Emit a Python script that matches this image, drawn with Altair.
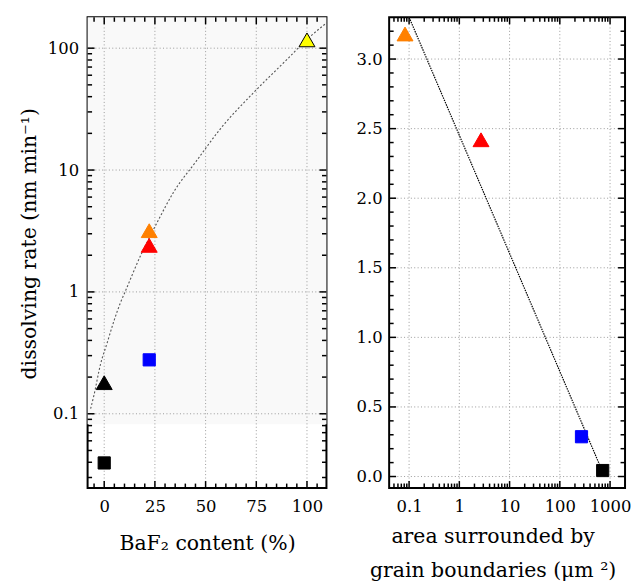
import altair as alt
import pandas as pd

FONT = "DejaVu Serif"

# ---------------- left panel data ----------------
baf2_content = [0, 0, 22.2, 22.2, 22.2, 100]
rate_left = [0.0395, 0.18, 0.277, 2.41, 3.18, 117]
shape_left = ["square", "triangle-up", "square", "triangle-up", "triangle-up", "triangle-up"]
fill_left = ["#000000", "#000000", "#0000ff", "#ff0000", "#ff8000", "#ffff00"]
stroke_left = ["#000000", "#000000", "#0000ff", "#ff0000", "#ff8000", "#000000"]

fit_left_x = [-6.7, -5.1, -1.8, 1.5, 4.8, 8.0, 10.5, 18.2, 22.2, 26.4, 34.5, 45.2,
              57.4, 73.8, 90.2, 100, 109.8]
fit_left_y = [0.11, 0.141, 0.256, 0.384, 0.578, 0.815, 1.02, 2.03, 2.77, 3.8, 6.7, 11.7,
              21.9, 43.4, 81, 118, 162]

band_low = [0.082]
band_high = [179.2]

# ---------------- right panel data ----------------
area = [0.083, 2.7, 270, 713]
rate_right = [3.18, 2.42, 0.286, 0.043]
shape_right = ["triangle-up", "triangle-up", "square", "square"]
fill_right = ["#ff8000", "#ff0000", "#0000ff", "#000000"]
stroke_right = ["#ff8000", "#ff0000", "#0000ff", "#000000"]

fit_right_x = [0.1, 641]
fit_right_y = [3.30, 0.071]

# ---------------- ticks ----------------
left_x_major = [0, 25, 50, 75, 100]
left_x_minor = [-5, 5, 10, 15, 20, 30, 35, 40, 45, 55, 60, 65, 70, 80, 85, 90, 95, 105]
left_y_major = [0.1, 1, 10, 100]
left_y_minor = [0.03, 0.04, 0.05, 0.06, 0.07, 0.08, 0.09,
                0.2, 0.3, 0.4, 0.5, 0.6, 0.7, 0.8, 0.9,
                2, 3, 4, 5, 6, 7, 8, 9,
                20, 30, 40, 50, 60, 70, 80, 90]
right_x_major = [0.1, 1, 10, 100, 1000]
right_x_minor = [0.05, 0.06, 0.07, 0.08, 0.09,
                 0.2, 0.3, 0.4, 0.5, 0.6, 0.7, 0.8, 0.9,
                 2, 3, 4, 5, 6, 7, 8, 9,
                 20, 30, 40, 50, 60, 70, 80, 90,
                 200, 300, 400, 500, 600, 700, 800, 900]
right_y_major = [0.0, 0.5, 1.0, 1.5, 2.0, 2.5, 3.0]
right_y_minor = [0.1, 0.2, 0.3, 0.4, 0.6, 0.7, 0.8, 0.9, 1.1, 1.2, 1.3, 1.4,
                 1.6, 1.7, 1.8, 1.9, 2.1, 2.2, 2.3, 2.4, 2.6, 2.7, 2.8, 2.9,
                 3.1, 3.2]

LW, RW, H = 240, 237, 473
MAJ, MIN = 7, 4.5

left_xscale = alt.Scale(domain=[-8.2, 109.6], nice=False, zero=False)
left_yscale = alt.Scale(type="log", domain=[0.02457, 179.2], nice=False)
right_xscale = alt.Scale(type="log", domain=[0.0401, 1986], nice=False)
right_yscale = alt.Scale(domain=[-0.083, 3.30], nice=False, zero=False)

common = dict(ticks=False, domain=False, grid=False)

left_xaxis = alt.Axis(
    values=left_x_major, format="d", labelPadding=11,
    title="BaF₂ content (%)", titleX=120, titleY=62,
    titleAlign="center", titleBaseline="alphabetic", **common)
left_yaxis = alt.Axis(
    values=left_y_major, format="~g", labelPadding=9,
    title="dissolving rate (nm min⁻¹)", titleX=-52, titleY=227,
    titleAngle=270, titleAlign="center", titleBaseline="alphabetic", **common)
right_xaxis = alt.Axis(
    values=right_x_major, format="~g", labelPadding=11,
    title=["area surrounded by", "grain boundaries (μm ²)"],
    titleX=104, titleY=55, titleLineHeight=34,
    titleAlign="center", titleBaseline="alphabetic", **common)
right_yaxis = alt.Axis(
    values=right_y_major, format=".1f", labelPadding=7, title="", **common)


def enc_factory(xscale, yscale, xaxis, yaxis):
    def ex(field):
        return alt.X(field, type="quantitative", scale=xscale, axis=xaxis)

    def ey(field):
        return alt.Y(field, type="quantitative", scale=yscale, axis=yaxis)
    return ex, ey


def tick_layers(xvals_major, xvals_minor, yvals_major, yvals_minor, ex, ey, W):
    layers = []
    for vals, L in ((yvals_major, MAJ), (yvals_minor, MIN)):
        base = alt.Chart(pd.DataFrame({"v": vals})).mark_rule(color="black", strokeWidth=1.5)
        layers.append(base.encode(y=ey("v"), x=alt.value(0), x2=alt.value(L)))
        layers.append(base.encode(y=ey("v"), x=alt.value(W - L), x2=alt.value(W)))
    for vals, L in ((xvals_major, MAJ), (xvals_minor, MIN)):
        base = alt.Chart(pd.DataFrame({"v": vals})).mark_rule(color="black", strokeWidth=1.5)
        layers.append(base.encode(x=ex("v"), y=alt.value(0), y2=alt.value(L)))
        layers.append(base.encode(x=ex("v"), y=alt.value(H - L), y2=alt.value(H)))
    return layers


def grid_layers(xvals, yvals, ex, ey):
    gx = alt.Chart(pd.DataFrame({"v": xvals})).mark_rule(
        color="#9a9a9a", strokeWidth=1, strokeDash=[1, 2.4]
    ).encode(x=ex("v"))
    gy = alt.Chart(pd.DataFrame({"v": yvals})).mark_rule(
        color="#9a9a9a", strokeWidth=1, strokeDash=[1, 2.4]
    ).encode(y=ey("v"))
    return [gx, gy]


def points(df, ex, ey):
    return alt.Chart(df).mark_point(filled=True, opacity=1, strokeWidth=1).encode(
        x=ex("x"), y=ey("y"),
        shape=alt.Shape("shape:N", scale=None),
        fill=alt.Fill("fill:N", scale=None),
        stroke=alt.Stroke("stroke:N", scale=None),
        size=alt.condition("datum.shape == 'square'", alt.value(150), alt.value(256)),
    )


# ---------------- left panel ----------------
lx, ly = enc_factory(left_xscale, left_yscale, left_xaxis, left_yaxis)

band = alt.Chart(pd.DataFrame({"lo": band_low, "hi": band_high})).mark_rect(
    color="#f9f9f9"
).encode(y=ly("lo"), y2="hi:Q", x=alt.value(0), x2=alt.value(LW))

fit_left = alt.Chart(pd.DataFrame({"x": fit_left_x, "y": fit_left_y})).mark_line(
    color="#555555", strokeWidth=1.1, strokeDash=[2, 2], clip=True, interpolate="monotone"
).encode(x=lx("x"), y=ly("y"))

pts_left = points(pd.DataFrame({
    "x": baf2_content, "y": rate_left, "shape": shape_left,
    "fill": fill_left, "stroke": stroke_left,
}), lx, ly)

left = alt.layer(
    band,
    *grid_layers(left_x_major, left_y_major, lx, ly),
    fit_left,
    pts_left,
    *tick_layers(left_x_major, left_x_minor, left_y_major, left_y_minor, lx, ly, LW),
).properties(width=LW, height=H)

# ---------------- right panel ----------------
rx, ry = enc_factory(right_xscale, right_yscale, right_xaxis, right_yaxis)

fit_right = alt.Chart(pd.DataFrame({"x": fit_right_x, "y": fit_right_y})).mark_line(
    color="#000000", strokeWidth=1.2, strokeDash=[1.5, 1], clip=True
).encode(x=rx("x"), y=ry("y"))

pts_right = points(pd.DataFrame({
    "x": area, "y": rate_right, "shape": shape_right,
    "fill": fill_right, "stroke": stroke_right,
}), rx, ry)

right = alt.layer(
    *grid_layers(right_x_major, right_y_major, rx, ry),
    fit_right,
    pts_right,
    *tick_layers(right_x_major, right_x_minor, right_y_major, right_y_minor, rx, ry, RW),
).properties(width=RW, height=H)

chart = alt.hconcat(left, right, spacing=63, bounds="flush").properties(
    padding={"left": 18, "top": 14, "right": 0, "bottom": 0},
    background="white",
).configure(
    font=FONT
).configure_view(
    stroke="black", strokeWidth=2
).configure_axis(
    labelFont=FONT, titleFont=FONT,
    labelFontSize=16.5, labelColor="black",
    titleFontSize=20.5, titleFontWeight="normal", titleColor="black",
)

chart.save("out.html", embed_options={"renderer": "svg", "actions": False})
